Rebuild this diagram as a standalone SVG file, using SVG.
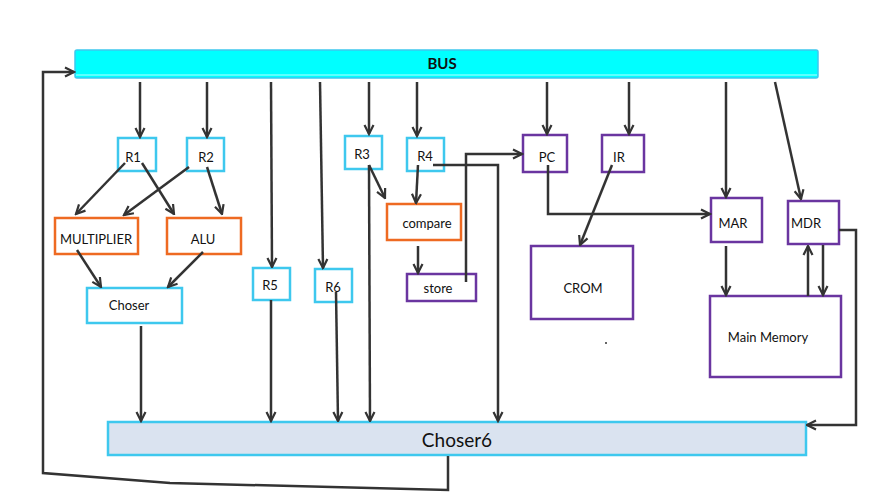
<svg xmlns="http://www.w3.org/2000/svg" width="888" height="500" viewBox="0 0 888 500">
<defs>
<marker id="ah" viewBox="0 0 12 12" refX="10.5" refY="6" markerWidth="12" markerHeight="12" markerUnits="userSpaceOnUse" orient="auto">
<path d="M1.5,1.5 L10.5,6 L1.5,10.5" fill="none" stroke="#333" stroke-width="2.2"/>
</marker>
</defs>
<style>
text{font-family:Lato,"Open Sans","Liberation Sans",sans-serif;font-size:13px;fill:#111;text-anchor:middle;dominant-baseline:central}
.b{fill:#fff;stroke:#3EC8EE;stroke-width:2.5}
.o{fill:#fff;stroke:#EE6A22;stroke-width:2.5}
.p{fill:#fff;stroke:#6A35A0;stroke-width:2.5}
.c path,.c line,.c polyline{fill:none;stroke:#333;stroke-width:2.5}
.a{marker-end:url(#ah)}
</style>
<rect width="888" height="500" fill="#fff"/>
<g id="bus">
<rect x="75" y="50" width="743" height="28" rx="2" fill="#00FFFF" stroke="#3EC8EE" stroke-width="1.5"/>
<line x1="76" y1="75" x2="817" y2="75" stroke="#bff" stroke-width="1"/>
<text x="442" y="63" style="font-weight:bold;font-size:15px">BUS</text>
</g>
<g id="r1"><rect class="b" x="118" y="138" width="38" height="33"/><text x="133" y="157">R1</text></g>
<g id="r2"><rect class="b" x="187" y="138" width="37" height="33"/><text x="206" y="157">R2</text></g>
<g id="multiplier"><rect class="o" x="55" y="218" width="83" height="36"/><text x="96" y="239">MULTIPLIER</text></g>
<g id="alu"><rect class="o" x="167" y="218" width="74" height="36"/><text x="203" y="239">ALU</text></g>
<g id="choser"><rect class="b" x="87" y="288" width="95" height="35"/><text x="129" y="305">Choser</text></g>
<g id="r5"><rect class="b" x="253" y="268" width="37" height="32"/><text x="270" y="285">R5</text></g>
<g id="r6"><rect class="b" x="315" y="269" width="37" height="33"/><text x="333" y="287">R6</text></g>
<g id="r3"><rect class="b" x="345" y="136" width="37" height="33"/><text x="362" y="154">R3</text></g>
<g id="r4"><rect class="b" x="407" y="138" width="37" height="33"/><text x="425" y="156">R4</text></g>
<g id="compare"><rect class="o" x="387" y="204" width="74" height="36"/><text x="427" y="223">compare</text></g>
<g id="store"><rect class="p" x="407" y="274" width="69" height="27"/><text x="438" y="288">store</text></g>
<g id="pc"><rect class="p" x="523" y="135" width="44" height="37"/><text x="547" y="157">PC</text></g>
<g id="ir"><rect class="p" x="602" y="135" width="42" height="37"/><text x="619" y="157">IR</text></g>
<g id="mar"><rect class="p" x="711" y="198" width="51" height="44"/><text x="733" y="223">MAR</text></g>
<g id="mdr"><rect class="p" x="788" y="201" width="51" height="43"/><text x="806" y="223">MDR</text></g>
<g id="crom"><rect class="p" x="531" y="246" width="102" height="73"/><text x="583" y="288">CROM</text></g>
<g id="mainmemory"><rect class="p" x="710" y="296" width="131" height="81"/><text x="768" y="337">Main Memory</text></g>
<g id="choser6"><rect x="108" y="422" width="698" height="33" fill="#DAE3F0" stroke="#3EC8EE" stroke-width="2.5"/><text x="457" y="439" style="font-size:19px">Choser6</text></g>
<circle cx="606" cy="343" r="1" fill="#333"/>
<g id="connectors" class="c">
<line class="a" x1="140" y1="82" x2="140" y2="137"/>
<line class="a" x1="207" y1="82" x2="207" y2="137"/>
<line class="a" x1="271" y1="82" x2="272" y2="267"/>
<line class="a" x1="320" y1="82" x2="323" y2="268"/>
<line class="a" x1="369" y1="82" x2="369" y2="134"/>
<line class="a" x1="417" y1="82" x2="417" y2="136"/>
<line class="a" x1="547" y1="82" x2="547" y2="134"/>
<line class="a" x1="629" y1="82" x2="629" y2="134"/>
<line class="a" x1="726" y1="82" x2="726" y2="197"/>
<line class="a" x1="775" y1="82" x2="801" y2="199"/>
<line class="a" x1="125" y1="163" x2="76" y2="214"/>
<line class="a" x1="142" y1="163" x2="174" y2="214"/>
<line class="a" x1="189" y1="167" x2="124" y2="215"/>
<line class="a" x1="207" y1="167" x2="222" y2="214"/>
<line class="a" x1="77" y1="250" x2="101" y2="287"/>
<line class="a" x1="203" y1="252" x2="168" y2="287"/>
<line class="a" x1="141" y1="326" x2="141" y2="421"/>
<line class="a" x1="271" y1="300" x2="271" y2="421"/>
<line class="a" x1="336" y1="292" x2="338" y2="421"/>
<line class="a" x1="369" y1="165" x2="385" y2="198"/>
<line class="a" x1="369" y1="165" x2="370" y2="421"/>
<line class="a" x1="418" y1="165" x2="416" y2="203"/>
<line class="a" x1="418" y1="246" x2="418" y2="273"/>
<polyline class="a" points="433,165 498,165 498,421"/>
<polyline class="a" points="466,282 466,154 522,154"/>
<polyline class="a" points="548,165 548,214 710,214"/>
<line class="a" x1="612" y1="165" x2="580" y2="245"/>
<line class="a" x1="726" y1="246" x2="726" y2="295"/>
<line class="a" x1="808" y1="296" x2="808" y2="246"/>
<line class="a" x1="823" y1="245" x2="823" y2="295"/>
<polyline class="a" points="839,230 856,230 856,425 807,425"/>
<polyline class="a" points="448,456 448,490 170,483 43,473 43,72 74,72"/>
</g>
</svg>
